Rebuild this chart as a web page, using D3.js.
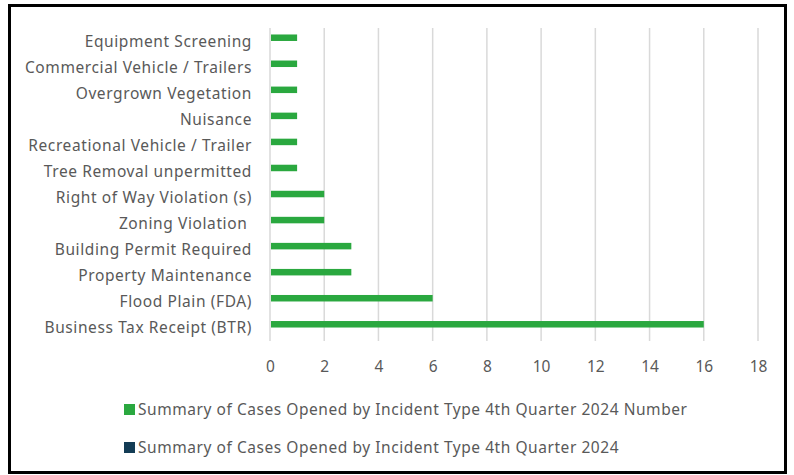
<!DOCTYPE html>
<html>
<head>
<meta charset="utf-8">
<script src="https://cdn.jsdelivr.net/npm/d3@7"></script>
<style>
  body { margin: 0; background: #fff; }
  svg text { font-family: "Noto Sans", sans-serif; fill: #595959; }
</style>
</head>
<body>
<div id="vis-div"></div>
<script>
'use strict'

// categories top to bottom, as in the chart
let categories = [
	"Equipment Screening",
	"Commercial Vehicle / Trailers",
	"Overgrown Vegetation",
	"Nuisance",
	"Recreational Vehicle / Trailer",
	"Tree Removal unpermitted",
	"Right of Way Violation (s)",
	"Zoning Violation ",
	"Building Permit Required",
	"Property Maintenance",
	"Flood Plain (FDA)",
	"Business Tax Receipt (BTR)"
]
let counts = [1, 1, 1, 1, 1, 1, 2, 2, 3, 3, 6, 16]
let xTicks = [0, 2, 4, 6, 8, 10, 12, 14, 16, 18]
let legendLabels = [
	"Summary of Cases Opened by Incident Type 4th Quarter 2024 Number",
	"Summary of Cases Opened by Incident Type 4th Quarter 2024"
]
let legendColors = ["#2aa83f", "#133c55"]

function wrapper(){
	let width = 794
	let height = 475

	let svg = d3.select("#vis-div").append("svg")
		.attr("width", width)
		.attr("height", height)

	// outer frame
	svg.append("rect")
		.attr("x", 9.5).attr("y", 5.5)
		.attr("width", 776).attr("height", 467)
		.attr("fill", "#fff")
		.attr("stroke", "#000")
		.attr("stroke-width", 3)

	let x = d3.scaleLinear().domain([0, 18]).range([270, 758])
	let y = d3.scaleBand().domain(categories).range([24.7, 337.3])

	// gridlines
	svg.append("g")
		.selectAll("line")
		.data(xTicks)
		.join("line")
		.attr("x1", d => x(d)).attr("x2", d => x(d))
		.attr("y1", 28).attr("y2", 341)
		.attr("stroke", "#d9d9d9")
		.attr("stroke-width", 1.5)

	// bars
	let barH = 6.5
	svg.append("g")
		.selectAll("rect")
		.data(categories)
		.join("rect")
		.attr("x", x(0) + 1)
		.attr("y", d => y(d) + y.bandwidth() / 2 - barH / 2)
		.attr("width", (d, i) => x(counts[i]) - x(0) - 1)
		.attr("height", barH)
		.attr("fill", legendColors[0])

	// category labels (keep the trailing space of "Zoning Violation ")
	svg.append("g")
		.selectAll("text")
		.data(categories)
		.join("text")
		.attr("x", 252)
		.attr("y", d => y(d) + y.bandwidth() / 2 + 3.5)
		.attr("dy", "0.35em")
		.attr("text-anchor", "end")
		.style("white-space", "pre")
		.style("font-size", "15.5px")
		.style("letter-spacing", "0.6px")
		.text(d => d)

	// x axis tick labels
	let xAxis = d3.axisBottom(x).tickValues(xTicks).tickSize(0).tickPadding(0)
	let axG = svg.append("g")
		.attr("transform", "translate(0,361)")
		.call(xAxis)
	axG.select(".domain").remove()
	axG.selectAll("text")
		.attr("fill", "#595959")
		.style("font-size", "15.5px")
		.style("font-family", "'Noto Sans', sans-serif")

	// legend
	let leg = svg.append("g")
		.selectAll("g")
		.data(legendLabels)
		.join("g")
		.attr("transform", (d, i) => "translate(124," + (404 + i * 38) + ")")
	leg.append("rect")
		.attr("width", 11).attr("height", 11)
		.attr("fill", (d, i) => legendColors[i])
	leg.append("text")
		.attr("x", 14)
		.attr("y", 5.5)
		.attr("dy", "0.35em")
		.style("font-size", "15.5px")
		.style("letter-spacing", "0.55px")
		.text(d => d)
}

wrapper();
</script>
</body>
</html>
